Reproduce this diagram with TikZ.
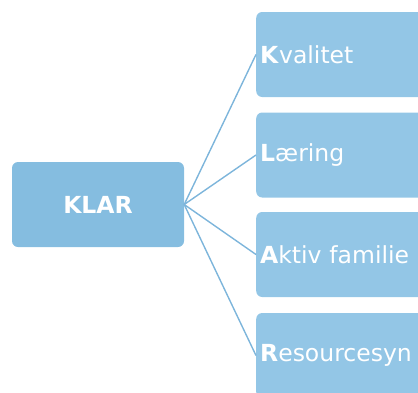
\documentclass[tikz,border=0pt]{standalone}
\usepackage{fontspec}
\setmainfont{DejaVu Sans}
\definecolor{hubfill}{HTML}{85BDE0}
\definecolor{itemfill}{HTML}{93C6E6}
\definecolor{connline}{HTML}{7DB5DB}
\begin{document}
\begin{tikzpicture}[x=1pt,y=-1pt,
  hubbox/.style={rectangle, rounded corners=6pt, fill=hubfill, draw=none,
    minimum width=172pt, minimum height=85pt, inner sep=0pt,
    text=white, font=\fontsize{23.5}{27}\selectfont},
  itembox/.style={rectangle, rounded corners=6pt, fill=itemfill, draw=none,
    minimum width=180pt, minimum height=85pt, inner xsep=4pt, inner ysep=0pt,
    text width=172pt, align=left, anchor=west,
    text=white, font=\fontsize{23.5}{27}\selectfont},
  conn/.style={draw=connline, line width=1.4pt}]
\path[use as bounding box, clip] (0,0) rectangle (418,392);
\node[hubbox] (klar) at (98,204.5) {\textbf{KLAR}};
\node[itembox] (kval) at (256,54.5) {\textbf{K}valitet};
\node[itembox] (laer) at (256,155) {\textbf{L}æring};
\node[itembox] (akt) at (256,254.5) {\textbf{A}ktiv familie};
\node[itembox] (res) at (256,355.5) {\textbf{R}esourcesyn};
\draw[conn] (klar.east) -- (kval.west);
\draw[conn] (klar.east) -- (laer.west);
\draw[conn] (klar.east) -- (akt.west);
\draw[conn] (klar.east) -- (res.west);
\end{tikzpicture}
\end{document}
